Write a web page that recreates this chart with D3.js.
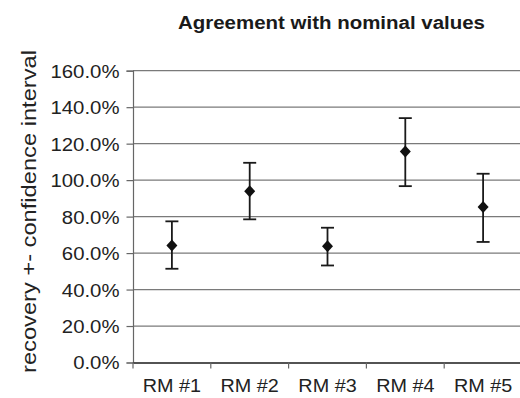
<!DOCTYPE html>
<html>
<head>
<meta charset="utf-8">
<script src="https://cdn.jsdelivr.net/npm/d3@7"></script>
<style>
  html, body { margin: 0; padding: 0; background: #fff; }
  svg { display: block; font-family: "Liberation Sans", Arial, Helvetica, sans-serif; }
</style>
</head>
<body>
<svg id="chart" width="520" height="398"></svg>
<script>
// Reference materials and their recovery (%) with confidence interval bounds
const categories = ["RM #1", "RM #2", "RM #3", "RM #4", "RM #5"];
const recovery   = [64.2, 93.9, 63.7, 115.7, 85.3];
const upper      = [77.4, 109.5, 73.9, 134.0, 103.5];
const lower      = [51.4, 78.5, 53.2, 96.7, 66.1];
const yTicks     = [0, 20, 40, 60, 80, 100, 120, 140, 160];

const svg = d3.select("#chart");
const margin = { left: 133, right: -2, top: 70.7, bottom: 35.5 };
const W = 520, H = 398;

// widen glyphs slightly, like the wide Helvetica used in the chart
function widen(sel, factor) {
  sel.each(function () {
    const len = this.getComputedTextLength();
    d3.select(this).attr("textLength", len * factor).attr("lengthAdjust", "spacingAndGlyphs");
  });
}

const x = d3.scaleBand()
  .domain(categories)
  .range([margin.left, W - margin.right])
  .paddingInner(0).paddingOuter(0);

const y = d3.scaleLinear()
  .domain([0, 160])
  .range([H - margin.bottom, margin.top]);

// title
svg.append("text")
  .attr("x", 178).attr("y", 28.5)
  .attr("text-anchor", "start")
  .attr("font-size", 17.5).attr("font-weight", "bold")
  .attr("fill", "#1a1a1a")
  .attr("textLength", 307).attr("lengthAdjust", "spacingAndGlyphs")
  .text("Agreement with nominal values");

// horizontal gridlines
svg.append("g")
  .selectAll("line")
  .data(yTicks.filter(d => d > 0))
  .join("line")
  .attr("x1", margin.left).attr("x2", W - margin.right)
  .attr("y1", d => y(d)).attr("y2", d => y(d))
  .attr("stroke", "#7a7a7a").attr("stroke-width", 1.2);

// y axis
const yAxis = svg.append("g")
  .attr("transform", `translate(${margin.left},0)`)
  .call(d3.axisLeft(y).tickValues(yTicks).tickSize(6.5).tickPadding(7)
    .tickFormat(d => d3.format(".1f")(d) + "%"));
yAxis.select(".domain").attr("stroke", "#666").attr("stroke-width", 1.2);
yAxis.selectAll(".tick line").attr("stroke", "#666").attr("stroke-width", 1.2);
yAxis.selectAll(".tick text")
  .attr("font-size", 18).attr("fill", "#222")
  .attr("dy", "0.36em")
  .attr("font-family", "'Liberation Sans', Arial, sans-serif")
  .call(widen, 1.13);

// x axis
const xAxis = svg.append("g")
  .attr("transform", `translate(0,${y(0)})`)
  .call(d3.axisBottom(x).tickSize(0).tickPadding(17));
xAxis.select(".domain").attr("stroke", "#1a1a1a").attr("stroke-width", 1.5);
xAxis.selectAll(".tick text")
  .attr("font-size", 18).attr("fill", "#222")
  .attr("font-family", "'Liberation Sans', Arial, sans-serif")
  .call(widen, 1.1);

// category separator ticks
svg.append("g")
  .selectAll("line")
  .data(categories)
  .join("line")
  .attr("x1", d => x(d)).attr("x2", d => x(d))
  .attr("y1", y(0)).attr("y2", y(0) + 6)
  .attr("stroke", "#666").attr("stroke-width", 1.2);

// y axis title
svg.append("text")
  .attr("transform", `translate(35.5,211.5) rotate(-90)`)
  .attr("text-anchor", "middle")
  .attr("font-size", 21).attr("fill", "#222")
  .attr("textLength", 323).attr("lengthAdjust", "spacingAndGlyphs")
  .text("recovery +- confidence interval");

// error bars with caps and diamond markers
const data = categories.map((c, i) => ({ c, v: recovery[i], hi: upper[i], lo: lower[i] }));
const cx = d => x(d.c) + x.bandwidth() / 2;
const cap = 6.5;

const g = svg.append("g").attr("stroke", "#1a1a1a").attr("stroke-width", 1.8);
g.selectAll(".whisker").data(data).join("line")
  .attr("x1", cx).attr("x2", cx)
  .attr("y1", d => y(d.hi)).attr("y2", d => y(d.lo));
g.selectAll(".capTop").data(data).join("line")
  .attr("x1", d => cx(d) - cap).attr("x2", d => cx(d) + cap)
  .attr("y1", d => y(d.hi)).attr("y2", d => y(d.hi));
g.selectAll(".capBot").data(data).join("line")
  .attr("x1", d => cx(d) - cap).attr("x2", d => cx(d) + cap)
  .attr("y1", d => y(d.lo)).attr("y2", d => y(d.lo));

svg.append("g").selectAll("path").data(data).join("path")
  .attr("transform", d => `translate(${cx(d)},${y(d.v)})`)
  .attr("d", "M0,-6L5.5,0L0,6L-5.5,0Z")
  .attr("fill", "#111");
</script>
</body>
</html>
